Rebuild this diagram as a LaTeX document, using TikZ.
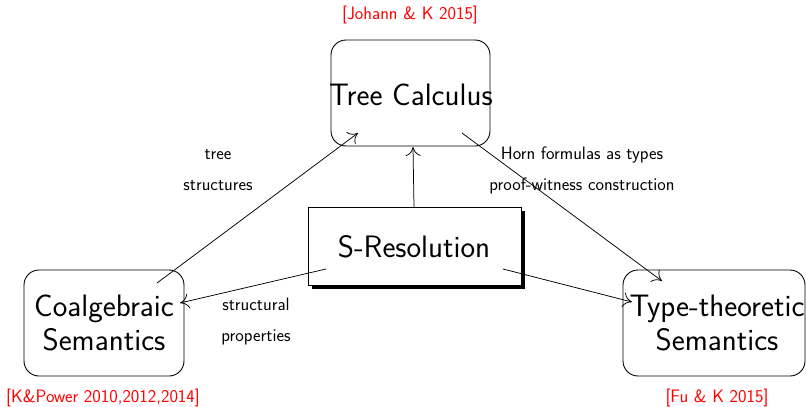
\documentclass[tikz,border=0pt]{standalone}
\usetikzlibrary{shadows,arrows.meta}
\begin{document}
\begin{tikzpicture}[x=1pt,y=-1pt,
  bigtxt/.style={font=\sffamily\fontsize{31}{34}\selectfont, align=center},
  smalltxt/.style={font=\sffamily\fontsize{18}{31}\selectfont, align=center},
  reftxt/.style={font=\sffamily\fontsize{18}{21}\selectfont, text=red},
  rbox/.style={draw, line width=0.9pt, rounded corners=15pt, inner sep=0pt},
  sbox/.style={draw, line width=0.9pt, fill=white, inner sep=0pt,
    drop shadow={shadow xshift=3.5pt, shadow yshift=-3.5pt, fill=black, opacity=1}},
  conn/.style={-{Computer Modern Rightarrow[length=9pt,width=15pt]}, line width=0.75pt}
]
\useasboundingbox (0,0) rectangle (806,407);
% boxes
\node[rbox, minimum width=159pt, minimum height=106pt] (tree) at (410.5,93) {};
\node[bigtxt] (treet) at (411,95) {Tree Calculus};
\node[sbox, minimum width=213pt, minimum height=78pt] (sres) at (414.5,246) {};
\node[bigtxt] (srest) at (414,247) {S-Resolution};
\node[rbox, minimum width=160pt, minimum height=106pt] (coal) at (104,323) {};
\node[bigtxt] (coalt) at (104,323) {Coalgebraic\\Semantics};
\node[rbox, minimum width=182pt, minimum height=106pt] (type) at (714,323) {};
\node[bigtxt] (typet) at (717,323) {Type-theoretic\\Semantics};
% references
\node[reftxt] (r1) at (410,15) {[Johann \& K 2015]};
\node[reftxt] (r2) at (103,398) {[K\&Power 2010,2012,2014]};
\node[reftxt] (r3) at (717,398) {[Fu \& K 2015]};
% labels
\node[smalltxt] (l1) at (218,170) {tree\\structures};
\node[smalltxt] (l2) at (582,170) {Horn formulas as types\\proof-witness construction};
\node[smalltxt] (l3) at (256,322) {structural\\properties};
% connector end points
\coordinate (c1) at (157,283);
\coordinate (t1) at (358,133);
\coordinate (s1) at (414,207);
\coordinate (t2) at (413,147);
\coordinate (t3) at (462,133);
\coordinate (y1) at (662,281);
\coordinate (s2) at (326,269);
\coordinate (c2) at (180,303);
\coordinate (s3) at (503,269);
\coordinate (y2) at (632,302);
\draw[conn] (c1) -- (t1);
\draw[conn] (s1) -- (t2);
\draw[conn] (t3) -- (y1);
\draw[conn] (s2) -- (c2);
\draw[conn] (s3) -- (y2);
\end{tikzpicture}
\end{document}
